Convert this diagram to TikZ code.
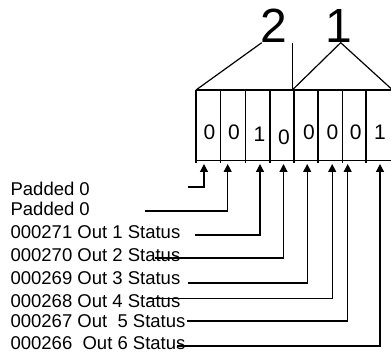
\documentclass[tikz,border=0pt]{standalone}
\usepackage{fontspec}
\setmainfont{Liberation Sans}
\usetikzlibrary{arrows.meta}
\tikzset{
    bit/.style={anchor=base,inner sep=0pt,font=\fontsize{21}{21}\selectfont},
    big/.style={anchor=base,inner sep=0pt,font=\fontsize{48}{48}\selectfont},
    lbl/.style={anchor=base west,inner sep=0pt,font=\fontsize{18.5}{18.5}\selectfont},
    arr/.style={-{Triangle[length=8pt,width=8pt]}}
}
\begin{document}
\begin{tikzpicture}[x=1pt,y=-1pt,line width=1.2pt]
    \useasboundingbox (0,0) rectangle (391,355);

    % 寄存器格子
    \draw (196,90) -- (392,90);
    \draw (196,160.7) -- (392,160.7);
    \draw (196,90) -- (196,163);
    \draw (220.7,90) -- (220.7,163);
    \draw (245.7,90) -- (245.7,163);
    \draw (270,90) -- (270,163);
    \draw (294,90) -- (294,163);
    \draw (318,90) -- (318,163);
    \draw (342.7,90) -- (342.7,163);
    \draw (366,90) -- (366,163);

    % 各位的值
    \node[bit] (d1) at (209.5,139.7) {0};
    \node[bit] (d2) at (234,139.7) {0};
    \node[bit] (d3) at (259.5,141.7) {1};
    \node[bit] (d4) at (284,144.6) {0};
    \node[bit] (d5) at (309,139.7) {0};
    \node[bit] (d6) at (332.5,139.7) {0};
    \node[bit] (d7) at (355.7,139.7) {0};
    \node[bit] (d8) at (380,139.7) {1};

    % 上方的两个数字
    \node[big] (two) at (273.9,42.3) {2};
    \node[big] (one) at (339.3,42.3) {1};

    % 分组的斜线
    \coordinate (tl) at (196,90);
    \coordinate (mid) at (292.3,90);
    \coordinate (tr) at (392.6,90);
    \draw (tl) -- (261.7,42.7);
    \draw (mid) -- (292.3,42.7);
    \draw (mid) -- (340.7,42.7) -- (tr);

    % 左侧说明文字
    \node[lbl] (l1) at (10,195.5) {Padded 0};
    \node[lbl] (l2) at (10,216) {Padded 0};
    \node[lbl] (l3) at (10,239) {000271 Out 1 Status};
    \node[lbl] (l4) at (10,262) {000270 Out 2 Status};
    \node[lbl] (l5) at (10,284.5) {000269 Out 3 Status};
    \node[lbl] (l6) at (10,308) {000268 Out 4 Status};
    \node[lbl] (l7) at (10,328) {000267 Out\ \ 5 Status};
    \node[lbl] (l8) at (10,350) {000266\ \ Out 6 Status};

    % 引线起点与箭头终点
    \coordinate (s1) at (188,187);
    \coordinate (s2) at (145,211);
    \coordinate (s3) at (195,235);
    \coordinate (s4) at (155,258);
    \coordinate (s5) at (188,283);
    \coordinate (s6) at (147,298.5);
    \coordinate (s7) at (187,321);
    \coordinate (s8) at (177,346);
    \coordinate (a1) at (204,164);
    \coordinate (a2) at (227.7,164);
    \coordinate (a3) at (260,164);
    \coordinate (a4) at (283.5,164);
    \coordinate (a5) at (307.2,164);
    \coordinate (a6) at (332.2,164);
    \coordinate (a7) at (347.7,164);
    \coordinate (a8) at (380,164);

    % 引线
    \draw[arr] (s1) -| (a1);
    \draw[arr] (s2) -| (a2);
    \draw[arr] (s3) -| (a3);
    \draw[arr] (s4) -| (a4);
    \draw[arr] (s5) -| (a5);
    \draw[arr] (s6) -| (a6);
    \draw[arr] (s7) -| (a7);
    \draw[arr] (s8) -| (a8);
\end{tikzpicture}
\end{document}
